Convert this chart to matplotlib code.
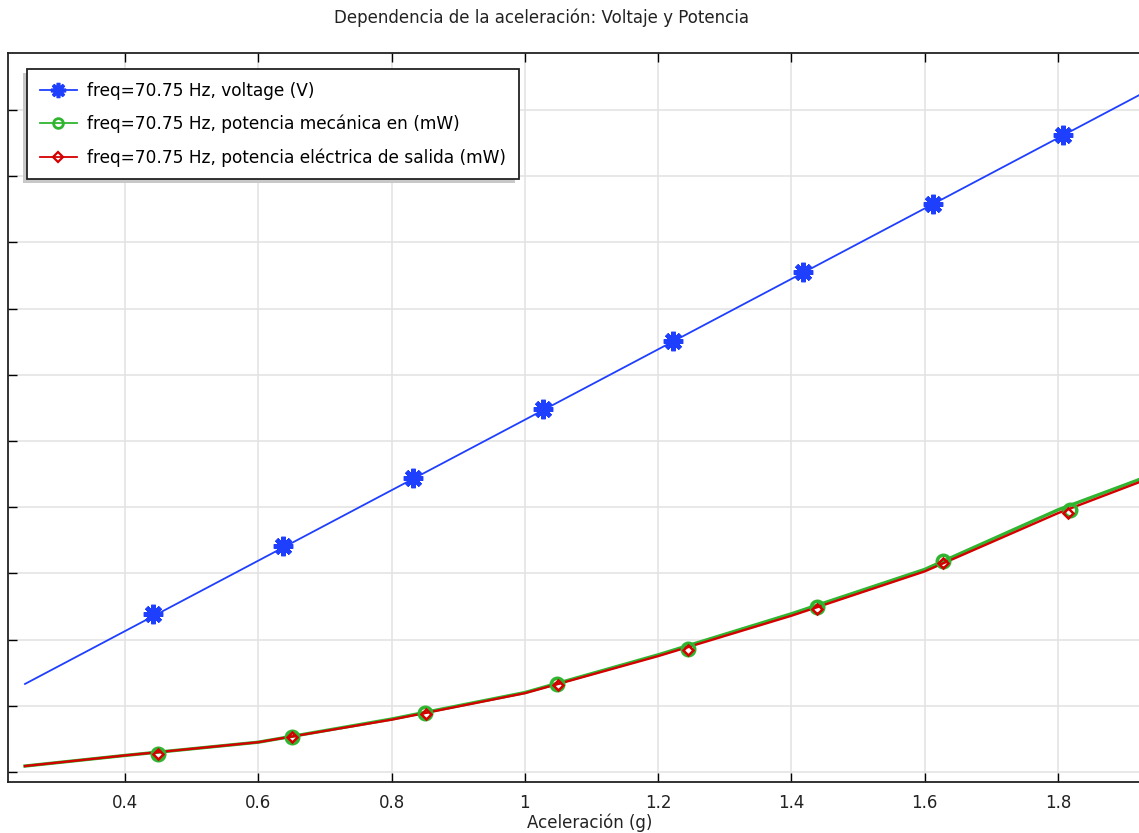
import matplotlib
matplotlib.use("Agg")
import matplotlib.pyplot as plt
from matplotlib.patches import Rectangle

# aceleracion (g) y valores
acc_volt = [0.25, 0.5, 1.0, 1.5, 2.0]
voltaje = [1.33, 2.66, 5.32, 7.98, 10.64]
acc_volt_mk = [0.442, 0.637, 0.832, 1.027, 1.222, 1.417, 1.612, 1.807]
voltaje_mk = [2.39, 3.41, 4.44, 5.48, 6.51, 7.55, 8.58, 9.62]

acc_pot = [0.25, 0.4, 0.6, 0.8, 1.0, 1.2, 1.4, 1.6, 1.8, 1.92, 2.0]
pot_mec = [0.09, 0.25, 0.45, 0.80, 1.20, 1.77, 2.39, 3.06, 3.96, 4.41, 4.75]
pot_elec = [0.09, 0.25, 0.45, 0.79, 1.19, 1.75, 2.36, 3.03, 3.91, 4.37, 4.70]

acc_mec_mk = [0.45, 0.65, 0.85, 1.048, 1.245, 1.438, 1.627, 1.818]
pot_mec_mk = [0.27, 0.53, 0.89, 1.33, 1.86, 2.49, 3.19, 3.96]
acc_elec_mk = [0.45, 0.65, 0.852, 1.05, 1.245, 1.438, 1.627, 1.815]
pot_elec_mk = [0.27, 0.53, 0.88, 1.31, 1.84, 2.46, 3.16, 3.91]

xticks = [0.4, 0.6, 0.8, 1.0, 1.2, 1.4, 1.6, 1.8]
xticklabels = ["0.4", "0.6", "0.8", "1", "1.2", "1.4", "1.6", "1.8"]
yticks = list(range(0, 11))

azul = "#1f3fff"
verde = "#2fb52f"
rojo = "#d40000"

W, H = 1139, 833
fig = plt.figure(figsize=(W / 100, H / 100), dpi=100)
# el eje se sale por la derecha como en la captura original
ax = fig.add_axes([8 / W, 51 / H, (1175 - 8) / W, (782 - 53) / H])

ax.plot(acc_volt, voltaje, color=azul, lw=1.3)
ax.plot(acc_pot, pot_mec, color=verde, lw=2.4)
ax.plot(acc_pot, pot_elec, color=rojo, lw=1.7)
ax.plot(acc_volt_mk, voltaje_mk, ls="none", marker=(8, 2, 0), ms=14, mew=3.2, color=azul)
ax.plot(acc_mec_mk, pot_mec_mk, ls="none", marker="o", ms=9, mew=2.5, mfc="none", mec=verde)
ax.plot(acc_elec_mk, pot_elec_mk, ls="none", marker="D", ms=5.5, mew=1.8, mfc="none", mec=rojo)

# entradas de la leyenda
h1, = ax.plot([], [], color=azul, lw=1.3, marker=(8, 2, 0), ms=11, mew=2.6)
h2, = ax.plot([], [], color=verde, lw=1.3, marker="o", ms=7, mew=2, mfc="none")
h3, = ax.plot([], [], color=rojo, lw=1.3, marker="D", ms=5, mew=1.6, mfc="none")

x0 = 0.2245
x1 = 1.8 + (1175 - 1058) / 666.5
ax.set_xlim(x0, x1)
ax.set_ylim(-0.151, 10.86)
ax.set_xticks(xticks)
ax.set_xticklabels(xticklabels, fontsize=12, color="#222222")
ax.set_yticks(yticks)
ax.set_yticklabels([])
ax.tick_params(direction="in", length=6.5, width=1, top=True, right=True, pad=9)
ax.grid(True, color="#e2e2e2", lw=1.1)
ax.set_axisbelow(True)
for s in ax.spines.values():
    s.set_linewidth(1.3)
    s.set_color("#222222")

leg = ax.legend([h1, h2, h3],
                ["freq=70.75 Hz, voltage (V)",
                 "freq=70.75 Hz, potencia mecánica en (mW)",
                 "freq=70.75 Hz, potencia eléctrica de salida (mW)"],
                loc="upper left", bbox_to_anchor=(27 / W, 1 - 69 / H),
                bbox_transform=fig.transFigure, borderaxespad=0,
                fontsize=12.25, fancybox=False, shadow=False,
                framealpha=1, edgecolor="#222222", handlelength=2.2,
                labelspacing=0.88, borderpad=0.75, handletextpad=0.6)
leg.get_frame().set_linewidth(1.3)
leg.set_zorder(6)

# sombra de la leyenda hacia abajo a la izquierda
fig.canvas.draw()
bb = leg.get_frame().get_window_extent()
ax.add_patch(Rectangle((bb.x0 - 4, bb.y0 - 4), bb.width, bb.height, transform=None,
                       facecolor="#c8c8c8", edgecolor="none", zorder=5.5))

fig.text(542 / W, 1 - 18 / H, "Dependencia de la aceleración: Voltaje y Potencia",
         ha="center", va="center", fontsize=12, color="#222222")
fig.text(590 / W, 1 - 823 / H, "Aceleración (g)", ha="center", va="center",
         fontsize=12, color="#222222")

fig.savefig("out.png", dpi=100)
